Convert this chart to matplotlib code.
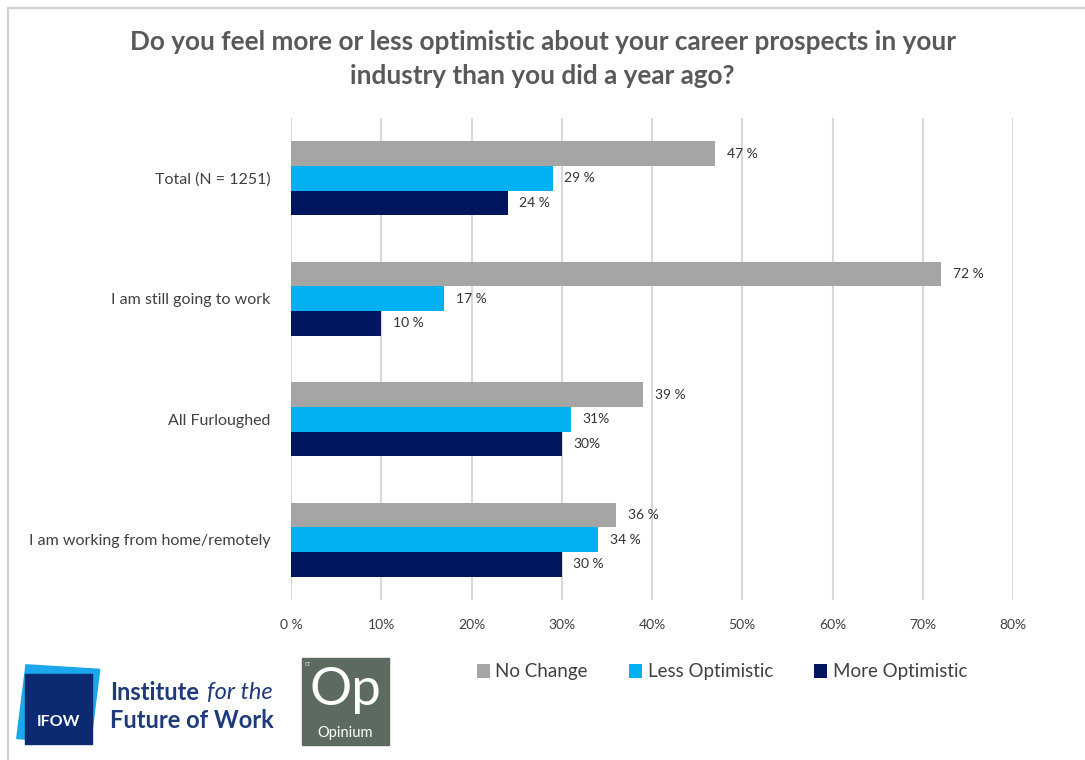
import numpy as np
import matplotlib
matplotlib.use("Agg")
import matplotlib.pyplot as plt
from matplotlib.patches import Rectangle, Patch
from matplotlib.lines import Line2D
import matplotlib.transforms as mtransforms

plt.rcParams["font.family"] = ["Lato", "DejaVu Sans"]

# survey groups, top to bottom
groups = ["Total (N = 1251)", "I am still going to work", "All Furloughed",
          "I am working from home/remotely"]
series = ["No Change", "Less Optimistic", "More Optimistic"]
no_change = [47, 72, 39, 36]
less_opt = [29, 17, 31, 34]
more_opt = [24, 10, 30, 30]
no_change_lbl = ["47 %", "72 %", "39 %", "36 %"]
less_opt_lbl = ["29 %", "17 %", "31%", "34 %"]
more_opt_lbl = ["24 %", "10 %", "30%", "30 %"]
xticks = [0, 10, 20, 30, 40, 50, 60, 70, 80]
xtick_lbl = ["0 %", "10%", "20%", "30%", "40%", "50%", "60%", "70%", "80%"]

colors = ["#A5A5A5", "#00B0F0", "#021660"]
text_col = "#404040"

fig = plt.figure(figsize=(10.85, 7.6), dpi=100)
ax = fig.add_axes([291 / 1085, 160 / 760, 722 / 1085, 482 / 760])

y = np.arange(len(groups))
h = 0.205
vals = [no_change, less_opt, more_opt]
lbls = [no_change_lbl, less_opt_lbl, more_opt_lbl]
for k, (v, lab, c, name) in enumerate(zip(vals, lbls, colors, series)):
    pos = y + (k - 1) * h
    ax.barh(pos, v, height=h, color=c, label=name, zorder=3)
    for p, val, t in zip(pos, v, lab):
        ax.text(val + 1.3, p, t, va="center", ha="left", fontsize=10,
                color="#333333", zorder=4)

ax.set_xlim(0, 80)
ax.set_ylim(len(groups) - 0.5, -0.5)
ax.set_xticks(xticks)
ax.set_xticklabels(xtick_lbl, fontsize=10, color=text_col)
ax.set_yticks(y)
ax.set_yticklabels(groups, fontsize=11.5, color=text_col)
ax.tick_params(length=0, pad=14)
ax.tick_params(axis="y", pad=15)
ax.grid(axis="x", color="#D9D9D9", lw=1.5, zorder=0)
for s in ax.spines.values():
    s.set_visible(False)

fig.text(0.5, 1 - 42 / 760, "Do you feel more or less optimistic about your career prospects in your",
         ha="center", va="center", fontsize=18.8, fontweight="bold", color="#595959")
fig.text(0.5, 1 - 76 / 760, "industry than you did a year ago?",
         ha="center", va="center", fontsize=18.8, fontweight="bold", color="#595959")

# legend
handles = [Patch(facecolor=c, edgecolor="none") for c in colors]
fig.legend(handles, series, loc="center", bbox_to_anchor=(722 / 1085, 1 - 672 / 760),
           ncol=3, frameon=False, fontsize=13.5, handlelength=0.7, handleheight=0.7,
           handletextpad=0.3, columnspacing=2.2, labelcolor=text_col)

# frame lines
fig.add_artist(Line2D([8 / 1085, 1], [1 - 8 / 760] * 2, color="#D0D0D0", lw=1.5))
fig.add_artist(Line2D([8 / 1085] * 2, [0, 1 - 8 / 760], color="#D0D0D0", lw=1.5))

# IFOW logo
px = lambda x, yy: (x / 1085, 1 - yy / 760)
tr = mtransforms.Affine2D().rotate_deg_around(59 / 1085, 1 - 706 / 760, -5) + fig.transFigure
fig.add_artist(Rectangle(px(21, 741), 74 / 1085, 74 / 760, color="#1AA7EC",
                         transform=tr))
fig.add_artist(Rectangle(px(25, 744), 67 / 1085, 70 / 760, color="#0B2A72"))
fig.text(*px(58, 722), "IFOW", color="white", fontsize=11.5, fontweight="bold",
         ha="center", va="center")
fig.text(*px(110, 692), "Institute", color="#1F3A7A", fontsize=17, fontweight="bold",
         ha="left", va="center")
fig.text(*px(207, 692), "for the", color="#1F3A7A", fontsize=17, style="italic",
         ha="left", va="center")
fig.text(*px(110, 720), "Future of Work", color="#1F3A7A", fontsize=17, fontweight="bold",
         ha="left", va="center")

# Opinium logo
fig.add_artist(Rectangle(px(302, 745), 87 / 1085, 87 / 760, color="#5C6A5F"))
fig.text(*px(345, 691), "Op", color="white", fontsize=38, ha="center", va="center")
fig.text(*px(345, 733), "Opinium", color="white", fontsize=10.5, ha="center", va="center")
fig.text(*px(305, 663), "or", color="#D0D0D0", fontsize=5, ha="left", va="center")

fig.savefig("out.png", dpi=100)
